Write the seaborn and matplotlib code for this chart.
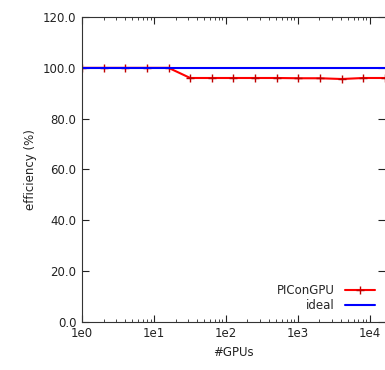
import matplotlib
matplotlib.use("Agg")
import matplotlib.pyplot as plt
import matplotlib.ticker as mticker
import pandas as pd
import seaborn as sns

# данные: число GPU и эффективность
gpus = [1, 2, 4, 8, 16, 32, 64, 128, 256, 512, 1024, 2048, 4096, 8192, 16384]
piconGPU_eff = [100.0, 100.0, 100.0, 100.0, 100.0, 96.0, 96.0, 96.0, 96.0, 96.0,
                95.9, 95.9, 95.6, 96.0, 96.0]
ideal_x = [1, 30000]
ideal_eff = [100.0, 100.0]

df = pd.DataFrame({"gpus": gpus, "eff": piconGPU_eff})
df_ideal = pd.DataFrame({"gpus": ideal_x, "eff": ideal_eff})

sns.set_theme(style="ticks")
plt.rcParams["font.family"] = ["DejaVu Sans"]

fig = plt.figure(figsize=(3.85, 3.7), dpi=100)
ax = fig.add_axes([0.213, 0.130, 0.787, 0.824])

sns.lineplot(data=df, x="gpus", y="eff", ax=ax, color="#ff0000", lw=1.5,
             marker="+", markersize=6, markeredgewidth=1.0,
             markeredgecolor="#c00000", label="PIConGPU")
sns.lineplot(data=df_ideal, x="gpus", y="eff", ax=ax, color="#0000ff", lw=1.5,
             label="ideal")

ax.set_xscale("log")
ax.set_xlim(1, 10 ** 4.215)
ax.set_ylim(0, 120)
ax.set_yticks([0, 20, 40, 60, 80, 100, 120])
ax.yaxis.set_major_formatter(mticker.FormatStrFormatter("%.1f"))
ax.set_xticks([1, 10, 100, 1000, 10000])
ax.set_xticklabels(["1e0", "1e1", "1e2", "1e3", "1e4"])
ax.xaxis.set_minor_locator(mticker.LogLocator(base=10, subs=range(2, 10)))
ax.xaxis.set_minor_formatter(mticker.NullFormatter())

ax.tick_params(axis="both", which="major", direction="in", length=5, width=0.8,
               top=True, right=True, labelsize=8.5, colors="#222222", pad=4)
ax.tick_params(axis="x", which="minor", direction="in", length=2.5, width=0.6,
               top=True)
for s in ["left", "bottom", "top"]:
    ax.spines[s].set_color("#333333")
    ax.spines[s].set_linewidth(0.8)
ax.spines["right"].set_visible(False)

ax.set_xlabel("#GPUs", fontsize=8.5, color="#222222")
ax.set_ylabel("efficiency (%)", fontsize=8.5, color="#222222")

ax.legend(loc="lower right", frameon=False, markerfirst=False, fontsize=8.5,
          handlelength=2.6, borderaxespad=0.3, labelspacing=0.2,
          bbox_to_anchor=(0.995, 0.005))

fig.savefig("out.png", dpi=100)
